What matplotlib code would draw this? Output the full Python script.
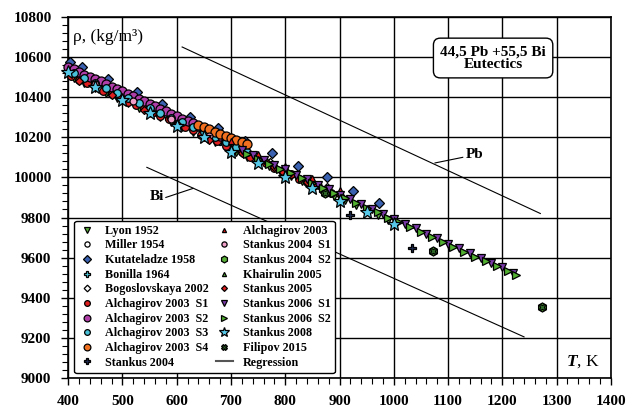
import matplotlib
matplotlib.use("Agg")
from matplotlib import pyplot as plt
from matplotlib.ticker import MultipleLocator

plt.rcParams['font.family'] = ['Liberation Serif', 'DejaVu Serif']
plt.rcParams['mathtext.fontset'] = 'custom'
plt.rcParams['mathtext.rm'] = 'Liberation Serif'
plt.rcParams['mathtext.it'] = 'Liberation Serif:italic:bold'
plt.rcParams['mathtext.bf'] = 'Liberation Serif:bold'

# density data for the 44.5Pb-55.5Bi eutectic, T in K, rho in kg/m3
lyon_T = [410, 430, 450, 470, 490, 510, 530, 550, 570, 590, 610, 630, 650, 670, 690,
          710, 730, 750, 770, 790, 810, 830, 850, 870, 890, 910, 930, 950, 970, 990]
lyon_rho = [10495, 10470, 10446, 10422, 10397, 10373, 10348, 10324, 10300, 10275, 10251, 10226, 10202, 10178, 10153,
            10129, 10104, 10080, 10056, 10031, 10007, 9982, 9958, 9934, 9909, 9885, 9860, 9836, 9812, 9787]

miller_T = [560, 660, 760, 860]
miller_rho = [10325, 10205, 10085, 9960]

kutat_T = [404, 426, 474, 527, 573, 625, 676, 726, 776, 824, 877, 925, 973]
kutat_rho = [10575, 10550, 10490, 10425, 10365, 10300, 10245, 10180, 10120, 10055, 10000, 9930, 9870]

bonilla_T = [480, 580, 680]
bonilla_rho = [10428, 10305, 10183]

bogos_T = [772, 877]
bogos_rho = [10075, 9950]

alch_s1_T = [405, 420, 435, 450, 465, 480, 495, 510, 525, 540, 555, 570, 585, 600, 615, 630, 645,
             660, 675, 690, 705, 720, 735, 750, 765, 780, 795, 810, 825, 840, 855, 870, 885]
alch_s1_rho = [10507, 10486, 10470, 10455, 10432, 10415, 10400, 10376, 10361, 10345, 10322, 10306, 10290, 10266, 10251, 10235, 10212,
               10196, 10180, 10157, 10141, 10125, 10102, 10086, 10070, 10047, 10031, 10015, 9992, 9976, 9960, 9938, 9921]

alch_s2_T = [400, 410, 420, 430, 440, 450, 460, 470, 480, 490, 500, 510, 520, 530, 540,
             550, 560, 570, 580, 590, 600, 610, 620, 630, 640, 650, 660, 670, 680, 690]
alch_s2_rho = [10550, 10538, 10526, 10512, 10502, 10488, 10478, 10464, 10453, 10440, 10429, 10415, 10404, 10392, 10379,
               10368, 10354, 10343, 10331, 10318, 10306, 10293, 10282, 10269, 10257, 10244, 10232, 10220, 10208, 10196]

alch_s3_T = [410, 430, 450, 470, 490, 510, 530, 550, 570, 590, 610, 630, 650, 670, 690, 710, 730]
alch_s3_rho = [10518, 10493, 10469, 10445, 10420, 10396, 10371, 10347, 10323, 10298, 10274, 10249, 10225, 10201, 10176, 10152, 10127]

alch_s4_T = [640, 650, 660, 670, 680, 690, 700, 710, 720, 730]
alch_s4_rho = [10262, 10250, 10240, 10228, 10218, 10208, 10198, 10188, 10178, 10168]

stankus04_T = [919, 1033]
stankus04_rho = [9815, 9650]

alch03_T = [700, 750, 800, 850, 900]
alch03_rho = [10180, 10118, 10058, 9996, 9936]

stankus04s1_T = [450, 520, 590, 660]
stankus04s1_rho = [10464, 10379, 10293, 10208]

stankus04s2_T = [873, 1072, 1273]
stankus04s2_rho = [9920, 9635, 9355]

khair_T = [500, 550, 600, 650, 700, 750, 800, 850, 900, 950, 1000]
khair_rho = [10383, 10322, 10261, 10200, 10139, 10078, 10017, 9956, 9895, 9834, 9773]

stankus05_T = [420, 480, 540, 600, 660, 720, 780, 840, 900]
stankus05_rho = [10481, 10412, 10334, 10266, 10188, 10120, 10051, 9978, 9910]

stankus06s1_T = [720, 740, 760, 780, 800, 820, 840, 860, 880, 900, 920, 940, 960,
                 980, 1000, 1020, 1040, 1060, 1080, 1100, 1120, 1140, 1160, 1180, 1200, 1220]
stankus06s1_rho = [10138, 10110, 10088, 10060, 10040, 10012, 9990, 9962, 9942, 9914, 9893, 9866, 9844,
                   9816, 9795, 9768, 9746, 9718, 9697, 9670, 9648, 9621, 9600, 9572, 9551, 9523]

stankus06s2_T = [730, 750, 770, 790, 810, 830, 850, 870, 890, 910, 930, 950, 970,
                 990, 1010, 1030, 1050, 1070, 1090, 1110, 1130, 1150, 1170, 1190, 1210, 1225]
stankus06s2_rho = [10116, 10092, 10068, 10044, 10020, 9995, 9971, 9946, 9922, 9898, 9873, 9849, 9825,
                   9800, 9776, 9752, 9727, 9703, 9678, 9654, 9630, 9605, 9581, 9556, 9532, 9512]

stankus08_T = [400, 450, 500, 550, 600, 650, 700, 750, 800, 850, 900, 950, 1000]
stankus08_rho = [10525, 10450, 10385, 10320, 10255, 10200, 10125, 10070, 10000, 9945, 9880, 9825, 9770]

filipov_T = [873, 1072, 1273]
filipov_rho = [9920, 9635, 9355]

regr_T = [400, 1230]
regr_rho = [10525, 9512]

pb_T = [610, 1270]
pb_rho = [10650, 9820]

bi_T = [545, 1240]
bi_rho = [10050, 9205]

fig = plt.figure(figsize=(6.37, 4.12), dpi=100)
ax = fig.add_axes([0.107, 0.0825, 0.852, 0.8765])

# grid and axes
ax.set_xlim(400, 1400)
ax.set_ylim(9000, 10800)
ax.xaxis.set_major_locator(MultipleLocator(100))
ax.xaxis.set_minor_locator(MultipleLocator(20))
ax.yaxis.set_major_locator(MultipleLocator(200))
ax.yaxis.set_minor_locator(MultipleLocator(40))
ax.grid(True, which='major', color='black', linewidth=1.0)
ax.set_axisbelow(True)
ax.tick_params(which='major', direction='out', length=5, width=1.0, pad=7,
               labelsize=11, top=False, right=False)
ax.tick_params(which='minor', direction='out', length=4, width=0.8, top=False, right=False)
for lbl in ax.get_xticklabels() + ax.get_yticklabels():
    lbl.set_fontweight('bold')
for sp in ax.spines.values():
    sp.set_linewidth(1.2)

# element lines
ax.plot(pb_T, pb_rho, color='black', lw=0.8)
ax.plot(bi_T, bi_rho, color='black', lw=0.8)
ax.plot(regr_T, regr_rho, color='black', lw=1.0, zorder=2)

ec = 'black'
ew = 0.9
series = [
    (lyon_T, lyon_rho, 'v', '#5AAE3A', 5.5, 'Lyon 1952'),
    (miller_T, miller_rho, 'o', 'white', 5.0, 'Miller 1954'),
    (kutat_T, kutat_rho, 'D', '#3A62B0', 5.0, 'Kutateladze 1958'),
    (bonilla_T, bonilla_rho, 'P', '#4CC8D8', 6.0, 'Bonilla 1964'),
    (bogos_T, bogos_rho, 'D', 'white', 4.5, 'Bogoslovskaya 2002'),
    (alch_s1_T, alch_s1_rho, 'o', '#E02020', 5.5, 'Alchagirov 2003  S1'),
    (alch_s2_T, alch_s2_rho, 'o', '#B03EA8', 6.5, 'Alchagirov 2003  S2'),
    (alch_s3_T, alch_s3_rho, 'o', '#48C0D8', 5.5, 'Alchagirov 2003  S3'),
    (alch_s4_T, alch_s4_rho, 'o', '#F07020', 6.5, 'Alchagirov 2003  S4'),
    (stankus04_T, stankus04_rho, 'P', '#1E2A50', 6.0, 'Stankus 2004'),
    (alch03_T, alch03_rho, '^', '#E01818', 4.0, 'Alchagirov 2003'),
    (stankus04s1_T, stankus04s1_rho, 'o', '#F0A0C8', 5.0, 'Stankus 2004  S1'),
    (stankus04s2_T, stankus04s2_rho, 'h', '#58B038', 6.5, 'Stankus 2004  S2'),
    (khair_T, khair_rho, '^', '#50A838', 4.0, 'Khairulin 2005'),
    (stankus05_T, stankus05_rho, 'D', '#E02020', 4.0, 'Stankus 2005'),
    (stankus06s1_T, stankus06s1_rho, 'v', '#7A3AA8', 5.5, 'Stankus 2006  S1'),
    (stankus06s2_T, stankus06s2_rho, '>', '#52B030', 5.5, 'Stankus 2006  S2'),
    (stankus08_T, stankus08_rho, '*', '#58C8E8', 10.0, 'Stankus 2008'),
    (filipov_T, filipov_rho, 'X', '#2E6A28', 5.0, 'Filipov 2015'),
]
handles = []
for T, rho, m, fc, ms, name in series:
    h, = ax.plot(T, rho, linestyle='none', marker=m, markerfacecolor=fc,
                 markeredgecolor=ec, markeredgewidth=ew, markersize=ms,
                 label=name, zorder=3, clip_on=False)
    handles.append(h)

# legend-only handle for the regression line
reg_handle, = ax.plot([], [], color='#555555', lw=1.5, label='Regression')
handles.append(reg_handle)

leg = ax.legend(handles=handles, ncol=2, loc='lower left', bbox_to_anchor=(0.011, 0.014),
                borderaxespad=0, fancybox=True, framealpha=1, edgecolor='black',
                markerscale=0.75, handlelength=1.4, handletextpad=0.8,
                columnspacing=0.6, labelspacing=0.22, borderpad=0.35,
                prop={'family': 'Liberation Serif', 'weight': 'bold', 'size': 8.7})
leg.get_frame().set_linewidth(1.0)
leg.set_zorder(5)

# labels and annotations
ax.text(0.009, 0.945, 'ρ, (kg/m³)', transform=ax.transAxes, fontsize=12.5,
        ha='left', va='center', zorder=6)
ax.text(0.98, 0.044, r'$T$, K', transform=ax.transAxes, fontsize=12.5,
        ha='right', va='center', zorder=6)
ax.text(1183, 10595, '44,5 Pb +55,5 Bi\nEutectics', fontsize=11, fontweight='bold',
        ha='center', va='center', linespacing=1.0, zorder=6,
        bbox=dict(boxstyle='round,pad=0.45', fc='white', ec='black', lw=1.0))

ax.plot([1076, 1127], [10072, 10100], color='black', lw=0.8)
ax.text(1133, 10115, 'Pb', fontsize=11, fontweight='bold', ha='left', va='center')
ax.plot([580, 630], [9900, 9945], color='black', lw=0.8)
ax.text(576, 9905, 'Bi', fontsize=11, fontweight='bold', ha='right', va='center')

fig.savefig('out.png', dpi=100)
